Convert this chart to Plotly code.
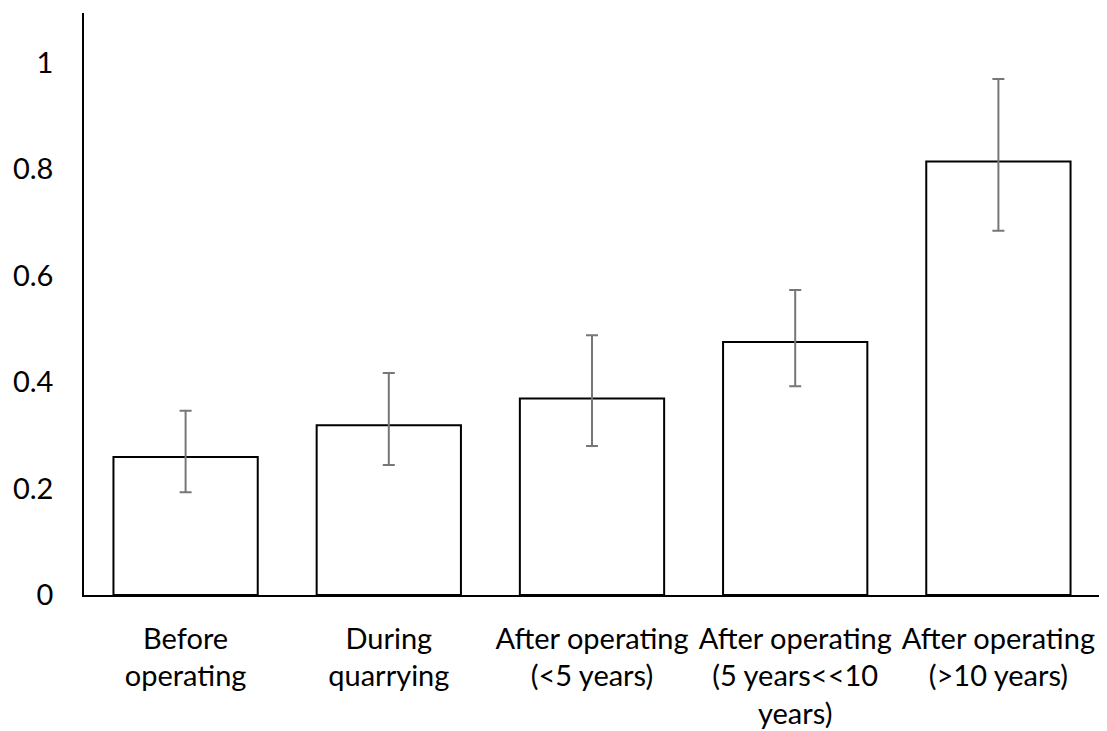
import plotly.graph_objects as go

categories = [
    "Before<br>operating",
    "During<br>quarrying",
    "After operating<br>(<5 years)",
    "After operating<br>(5 years<<10<br>years)",
    "After operating<br>(>10 years)",
]
values = [0.259, 0.319, 0.369, 0.475, 0.814]
err_upper = [0.346, 0.417, 0.488, 0.573, 0.969]
err_lower = [0.193, 0.244, 0.280, 0.392, 0.684]

err_plus = [u - v for u, v in zip(err_upper, values)]
err_minus = [v - l for v, l in zip(values, err_lower)]

x_idx = list(range(len(categories)))

fig = go.Figure(
    go.Bar(
        x=x_idx,
        y=values,
        marker=dict(color="white", line=dict(color="black", width=2)),
        error_y=dict(
            type="data",
            symmetric=False,
            array=err_plus,
            arrayminus=err_minus,
            color="#777777",
            thickness=2,
            width=6,
        ),
    )
)

font_family = "Lato, 'Open Sans', sans-serif"

fig.update_layout(
    width=1107,
    height=731,
    margin=dict(l=74, r=15, t=5, b=144),
    plot_bgcolor="white",
    paper_bgcolor="white",
    bargap=0.29,
    showlegend=False,
    font=dict(family=font_family, size=29, color="black"),
)

fig.update_xaxes(
    tickmode="array",
    tickvals=x_idx,
    ticktext=categories,
    range=[-0.5, len(categories) - 0.5],
    showline=True,
    linecolor="black",
    linewidth=1.5,
    ticks="",
    showgrid=False,
    zeroline=False,
    ticklabelstandoff=17,
    tickfont=dict(size=29, family=font_family, color="black"),
)

fig.update_yaxes(
    range=[0, 1.093],
    tickvals=[0, 0.2, 0.4, 0.6, 0.8, 1],
    ticktext=["0", "0.2", "0.4", "0.6", "0.8", "1"],
    showline=True,
    linecolor="black",
    linewidth=1.5,
    ticks="",
    showgrid=False,
    zeroline=False,
    ticklabelstandoff=23,
    tickfont=dict(size=29, family=font_family, color="black"),
)

fig.write_html("out.html")
